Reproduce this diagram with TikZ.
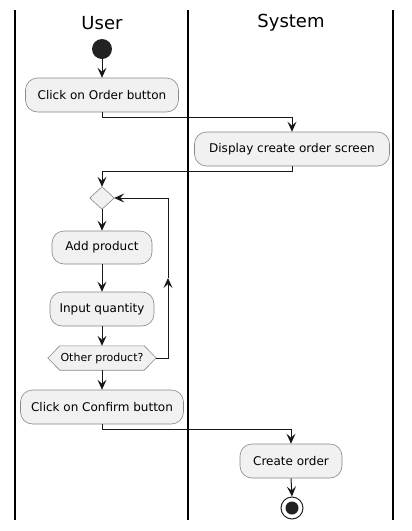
\documentclass[tikz,border=0pt]{standalone}
\usepackage{fontspec}
\setmainfont{DejaVu Sans}
\usetikzlibrary{arrows.meta}
\definecolor{boxfill}{HTML}{F1F1F1}
\definecolor{boxline}{HTML}{888888}
\definecolor{ink}{HTML}{181818}
\definecolor{dot}{HTML}{222222}
\begin{document}
\begin{tikzpicture}[x=1pt,y=-1pt,
  act/.style={draw=boxline,fill=boxfill,line width=0.6pt,rounded corners=12pt,
    inner sep=0pt,minimum height=34pt,font=\fontsize{12}{14}\selectfont},
  ghost/.style={inner sep=0pt},
  arr/.style={draw=ink,line width=1pt,-{Stealth[length=10pt,width=9pt,inset=4pt]}},
  plain/.style={draw=ink,line width=1pt},
  lane/.style={draw=black,line width=1.6pt},
  title/.style={font=\fontsize{18}{20}\selectfont}]
\useasboundingbox (0,0) rectangle (412,531);
% lanes
\coordinate (l1t) at (15,10); \coordinate (l1b) at (15,520);
\coordinate (l2t) at (188,10); \coordinate (l2b) at (188,520);
\coordinate (l3t) at (393,10); \coordinate (l3b) at (393,520);
\draw[lane] (l1t) -- (l1b);
\draw[lane] (l2t) -- (l2b);
\draw[lane] (l3t) -- (l3b);
\node[title] (tuser) at (102,23) {User};
\node[title] (tsys) at (291,23) {System};
% nodes
\node[circle,fill=dot,minimum size=20pt,inner sep=0pt] (start) at (102,49) {};
\node[act,minimum width=153pt] (click) at (102,95) {Click on Order button};
\node[act,minimum width=195pt] (display) at (292,149) {Display create order screen};
\node[ghost,minimum width=24pt,minimum height=22pt] (dia) at (102,198) {};
\draw[draw=boxline,fill=boxfill,line width=0.6pt] (dia.north) -- (dia.east) -- (dia.south) -- (dia.west) -- cycle;
\node[act,minimum width=100pt,minimum height=33pt] (add) at (102,247.5) {Add product};
\node[act,minimum width=104pt] (input) at (102,309) {Input quantity};
\node[ghost,minimum width=108pt,minimum height=24pt,font=\fontsize{11}{13}\selectfont] (hex) at (102,358) {};
\draw[draw=boxline,fill=boxfill,line width=0.6pt]
  ([xshift=12pt]hex.north west) -- ([xshift=-12pt]hex.north east) -- (hex.east)
  -- ([xshift=-12pt]hex.south east) -- ([xshift=12pt]hex.south west) -- (hex.west) -- cycle;
\node[font=\fontsize{11}{13}\selectfont,inner sep=0pt] (hextext) at (hex.center) {Other product?};
\node[act,minimum width=163pt] (confirm) at (102,407) {Click on Confirm button};
\node[act,minimum width=102pt] (create) at (291,461) {Create order};
\node[circle,draw=dot,fill=white,line width=1pt,minimum size=22pt,inner sep=0pt] (end) at (292,508) {};
\node[circle,fill=dot,minimum size=13pt,inner sep=0pt] (endin) at (end.center) {};
% loop coordinates
\coordinate (loopb) at (168,358);
\coordinate (loopm) at (168,278);
\coordinate (loopt) at (168,198);
% connectors
\draw[arr] (start) -- (click.north);
\draw[arr] (click.south) -- ++(0,5) -| (display.north);
\draw[arr] (display.south) -- ++(0,5) -| (dia.north);
\draw[arr] (dia.south) -- (add.north);
\draw[arr] (add.south) -- (input.north);
\draw[arr] (input.south) -- (hex.north);
\draw[arr] (hex.east) -- (loopb) -- (loopm);
\draw[arr] (loopm) -- (loopt) -- (dia.east);
\draw[arr] (hex.south) -- (confirm.north);
\draw[arr] (confirm.south) -- ++(0,5) -| (create.north);
\draw[arr] (create.south) -- (end.north);
\end{tikzpicture}
\end{document}
